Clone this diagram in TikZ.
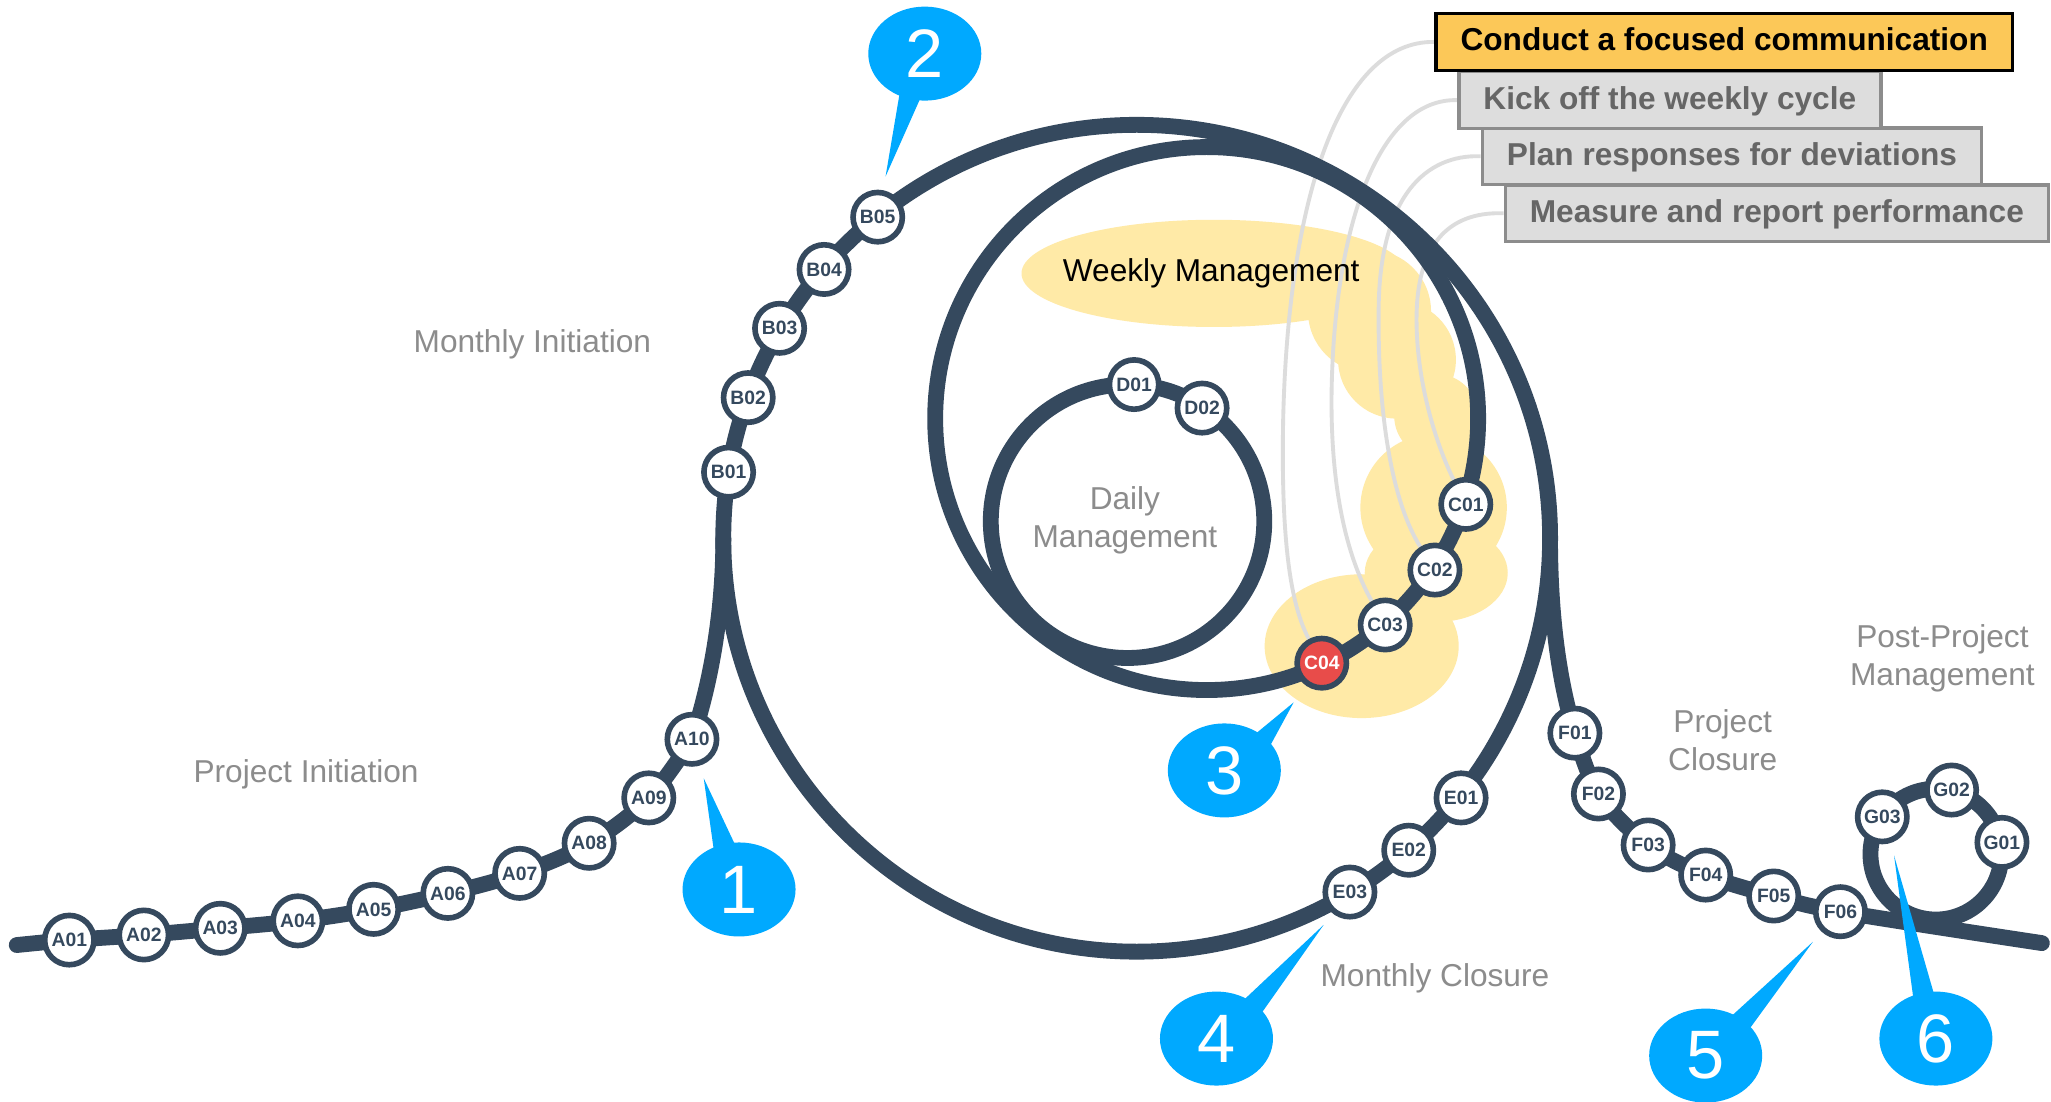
\documentclass[tikz,border=0pt]{standalone}
\usepackage{fontspec}
\setmainfont{Liberation Sans}
\usetikzlibrary{shapes.geometric}
\pgfdeclarelayer{bg}\pgfdeclarelayer{gl}\pgfdeclarelayer{trk}
\pgfsetlayers{bg,gl,trk,main}
\definecolor{navy}{HTML}{35495E}
\definecolor{redc}{HTML}{E84C4A}
\definecolor{callblue}{HTML}{00A9FF}
\definecolor{hl}{HTML}{FFEAA7}
\definecolor{lblgray}{HTML}{8C8C8C}
\definecolor{glgray}{HTML}{DCDCDC}
\definecolor{boxgold}{HTML}{FCC858}
\definecolor{boxgray}{HTML}{DDDDDD}
\definecolor{boxedge}{HTML}{8C8C8C}
\definecolor{boxtext}{HTML}{666666}
\begin{document}
\begin{tikzpicture}[x=0.01308cm,y=-0.01308cm,
 track/.style={draw=navy,line width=4.5pt,line cap=round},
 stn/.style={circle,draw=navy,line width=1.6pt,fill=white,minimum size=0.493cm,inner sep=0pt,font=\bfseries\fontsize{5.5}{6}\selectfont,text=navy},
 stnred/.style={stn,fill=redc,text=white},
 lbl/.style={text=lblgray,font=\fontsize{9}{10.8}\selectfont,align=center},
 numbubble/.style={ellipse,fill=callblue,text=white,inner sep=0pt,minimum width=1.13cm,minimum height=0.94cm,font=\fontsize{19.5}{20}\selectfont},
 taskbox/.style={anchor=north west,minimum height=0.568cm,inner xsep=0.245cm,inner ysep=0pt,text height=0.24cm,text depth=0.06cm,font=\bfseries\fontsize{9}{10}\selectfont,line width=1pt},
 conn/.style={draw=glgray,line width=1.1pt}]
\useasboundingbox (0,0) rectangle (1568,842);
\begin{pgfonlayer}{bg}
\fill[white] (0,0) rectangle (1568,842);
\fill[hl] (928,209) ellipse [x radius=1.923cm, y radius=0.536cm];
\fill[hl] (1047,238) circle [radius=0.615cm];
\fill[hl] (1068,275) circle [radius=0.589cm];
\fill[hl] (1098,318) circle [radius=0.42cm];
\fill[hl] (1096,388) circle [radius=0.732cm];
\fill[hl] (1098,438) ellipse [x radius=0.715cm, y radius=0.49cm];
\fill[hl] (1041,494) ellipse [x radius=0.97cm, y radius=0.719cm];
\end{pgfonlayer}
% coordinates
\coordinate (cM) at (869,411.5);
\coordinate (cW) at (922.5,320);
\coordinate (cD) at (862,398.5);
\coordinate (cG) at (1480,653);
\coordinate (jL) at (553,411.5);
\coordinate (jR) at (1185,411.5);
\coordinate (s0) at (12.8,722.5);
\coordinate (fE) at (1561,721);
\foreach \nm/\x/\y in {A01/53/718.7,A02/110/714.8,A03/168.4/709.7,A04/227.7/704,A05/285.6/695.2,A06/342.4/683,A07/397.3/667.7,A08/450.4/644.7,A09/496/610,A10/529/565.2,
 B01/557/361,B02/572/304,B03/596/251,B04/630/206,B05/671/166,
 D01/867/294,D02/919/312,
 C01/1120.6/385.6,C02/1097/435.8,C03/1059/477.8,C04/1010.5/507,
 E01/1117/610,E02/1077/650,E03/1032/682,
 F01/1204/560.5,F02/1222/607,F03/1260/646,F04/1304/669,F05/1356/685,F06/1407/697,
 G01/1530.5/644,G02/1492/604,G03/1439/624.5}
 {\coordinate (p\nm) at (\x,\y);}
% tracks
\begin{pgfonlayer}{trk}
\draw[track] (cM) circle [radius=4.133cm];
\draw[track] (cW) circle [radius=2.714cm];
\draw[track] (cD) circle [radius=1.367cm];
\draw[track] (cG) circle [radius=0.654cm];
\draw[track] plot[smooth,tension=0.55] coordinates {(s0) (pA01) (pA02) (pA03) (pA04) (pA05) (pA06) (pA07) (pA08) (pA09) (pA10)} .. controls (541,530) and (553,475) .. (jL);
\draw[track] (jR) .. controls (1185,480) and (1194,528) .. (pF01);
\draw[track] plot[smooth,tension=0.55] coordinates {(pF01) (pF02) (pF03) (pF04) (pF05) (pF06) (fE)};
\end{pgfonlayer}
% stations
\foreach \nm in {A01,A02,A03,A04,A05,A06,A07,A08,A09,A10,B01,B02,B03,B04,B05,D01,D02,C01,C02,C03,E01,E02,E03,F01,F02,F03,F04,F05,F06,G01,G02,G03}
 {\node[stn] (\nm) at (p\nm) {\nm};}
\node[stnred] (C04) at (pC04) {C04};
% labels
\node[lbl] (lMI) at (407,263) {Monthly Initiation};
\node[lbl] (lPI) at (234,592) {Project Initiation};
\node[lbl] (lDM) at (860,398) {Daily\\Management};
\node[font=\fontsize{9}{10.8}\selectfont,text=black] (lWM) at (926,209) {Weekly Management};
\node[lbl] (lMC) at (1097,748) {Monthly Closure};
\node[lbl] (lPC) at (1317,566) {Project\\Closure};
\node[lbl] (lPP) at (1485,503) {Post-Project\\Management};
% callouts
\foreach \k/\cx/\cy/\tx/\ty/\ax/\ay/\bx/\by in {1/565/680/538/595/546/652/563/648,
 2/707/41/677/135/688/70/705/72,
 3/936/589/989/537/955/565/970/572,
 4/930/794/1012/707/945/770/962/778,
 5/1304/807/1386/720/1318/782/1335/790,
 6/1480/794/1448/654/1463/765/1480/765}
{\coordinate (t\k) at (\tx,\ty);
 \coordinate (ba\k) at (\ax,\ay);
 \coordinate (bb\k) at (\bx,\by);
 \fill[callblue] (t\k) -- (ba\k) -- (bb\k) -- cycle;
 \node[numbubble] (n\k) at (\cx,\cy) {\k};}
% boxes
\node[taskbox,draw=boxedge,fill=boxgray,text=boxtext] (box4) at (1149.5,140) {Measure and report performance};
\node[taskbox,draw=boxedge,fill=boxgray,text=boxtext] (box3) at (1132,96.4) {Plan responses for deviations};
\node[taskbox,draw=boxedge,fill=boxgray,text=boxtext] (box2) at (1114,53.5) {Kick off the weekly cycle};
\node[taskbox,draw=black,fill=boxgold,text=black] (box1) at (1096.5,9) {Conduct a focused communication};
% connectors
\begin{pgfonlayer}{gl}
\draw[conn] (box1.west) .. controls (1025,31) and (985,150) .. (981,320) .. controls (979,420) and (988,465) .. (C04);
\draw[conn] (box2.west) .. controls (1055,75) and (1020,170) .. (1018,300) .. controls (1017,380) and (1032,430) .. (C03);
\draw[conn] (box3.west) .. controls (1090,118) and (1055,150) .. (1054,235) .. controls (1053,320) and (1065,385) .. (C02);
\draw[conn] (box4.west) .. controls (1105,161.5) and (1084,190) .. (1083,240) .. controls (1082,290) and (1098,340) .. (C01);
\end{pgfonlayer}
\end{tikzpicture}
\end{document}
